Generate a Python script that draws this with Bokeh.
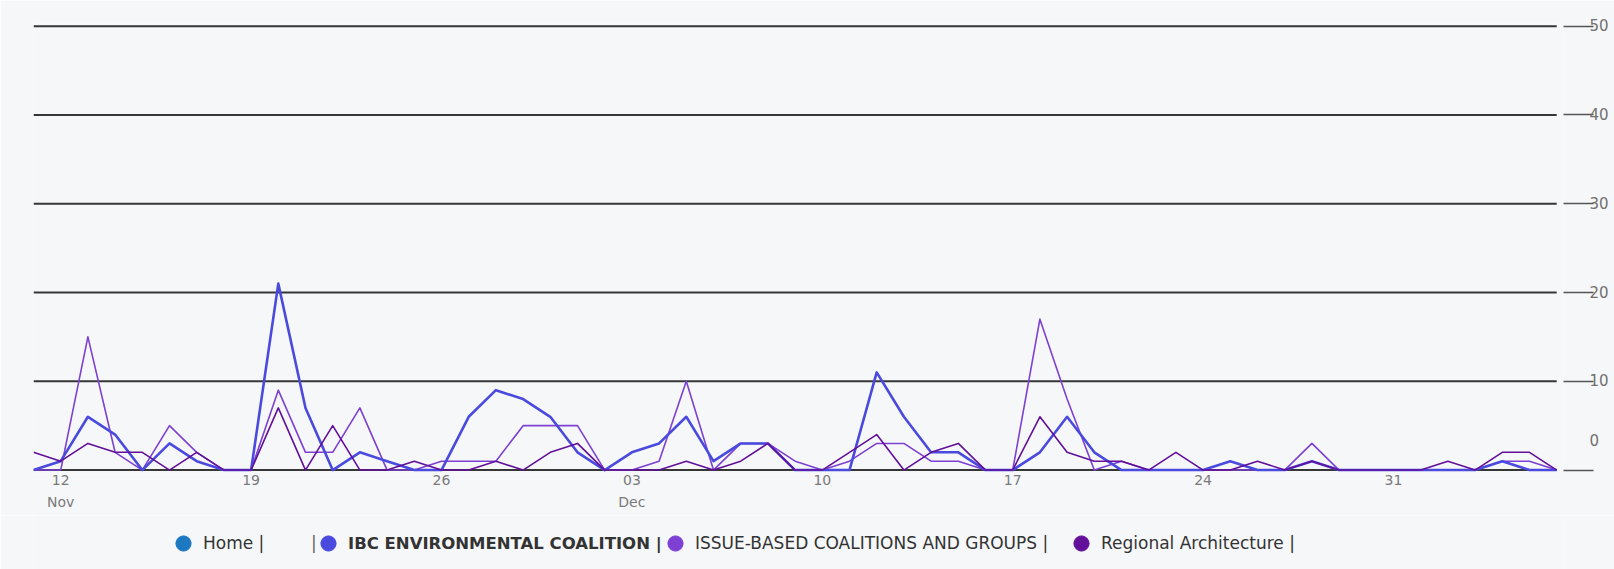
import numpy as np
import pandas as pd
from bokeh.plotting import figure
from bokeh.layouts import column
from bokeh.models import (Range1d, FixedTicker, Legend, LegendItem,
                          ColumnDataSource)
from bokeh.core.properties import value
from bokeh.embed import file_html
from bokeh.resources import INLINE

# ---------------- data ----------------
start_date = "2023-11-11"
end_date = "2024-01-06"

series_names = ["Home", "IBC ENVIRONMENTAL COALITION",
                "ISSUE-BASED COALITIONS AND GROUPS", "Regional Architecture"]

ibc = [0, 1, 6, 4, 0, 3, 1, 0, 0, 21,
       7, 0, 2, 1, 0, 0, 6, 9, 8, 6,
       2, 0, 2, 3, 6, 1, 3, 3, 0, 0,
       0, 11, 6, 2, 2, 0, 0, 2, 6, 2,
       0, 0, 0, 0, 1, 0, 0, 1, 0, 0,
       0, 0, 0, 0, 1, 0, 0]

issue = [0, 0, 15, 2, 0, 5, 2, 0, 0, 9,
         2, 2, 7, 0, 0, 1, 1, 1, 5, 5,
         5, 0, 0, 1, 10, 0, 3, 3, 1, 0,
         1, 3, 3, 1, 1, 0, 0, 17, 8, 0,
         1, 0, 0, 0, 0, 0, 0, 3, 0, 0,
         0, 0, 0, 0, 1, 1, 0]

regional = [2, 1, 3, 2, 2, 0, 2, 0, 0, 7,
            0, 5, 0, 0, 1, 0, 0, 1, 0, 2,
            3, 0, 0, 0, 1, 0, 1, 3, 0, 0,
            2, 4, 0, 2, 3, 0, 0, 6, 2, 1,
            1, 0, 2, 0, 0, 1, 0, 1, 0, 0,
            0, 0, 1, 0, 2, 2, 0]

x_tick_dates = ["2023-11-12", "2023-11-19", "2023-11-26", "2023-12-03",
                "2023-12-10", "2023-12-17", "2023-12-24", "2023-12-31"]
x_tick_labels = ["12\nNov", "19", "26", "03\nDec", "10", "17", "24", "31"]
y_ticks = [0, 10, 20, 30, 40, 50]
y_tick_labels = ["0", "10", "20", "30", "40", "50"]

# ---------------- style ----------------
BG = "#f6f7f9"
FONT = "DejaVu Sans"
colors = {"Home": "#1c78c0",
          "IBC ENVIRONMENTAL COALITION": "#4a4ade",
          "ISSUE-BASED COALITIONS AND GROUPS": "#7d40d2",
          "Regional Architecture": "#62109a"}

dates = pd.date_range(start_date, end_date, freq="D")
to_ms = lambda t: pd.Timestamp(t).value / 1e6

p = figure(x_axis_type="datetime", y_axis_location="right",
           x_range=Range1d(dates[0], dates[-1] + pd.Timedelta(hours=6)),
           y_range=Range1d(-0.5, 50.3),
           width=1614, height=515,
           min_border_left=33, min_border_top=23,
           min_border_right=51, min_border_bottom=41,
           output_backend="svg", toolbar_location=None,
           background_fill_color=BG, border_fill_color=BG,
           outline_line_color=None)

p.xgrid.visible = False
p.ygrid.visible = False

# horizontal grid lines spanning the data period
grid_src = ColumnDataSource(dict(x0=[dates[0]] * len(y_ticks),
                                 x1=[dates[-1]] * len(y_ticks),
                                 y=y_ticks))
p.segment(x0="x0", y0="y", x1="x1", y1="y", source=grid_src,
          line_color="#363636", line_width=2)

src = ColumnDataSource(dict(date=dates, ibc=ibc, issue=issue, regional=regional))
p.line("date", "issue", source=src, line_color=colors[series_names[2]],
       line_width=1.6, line_join="round")
p.line("date", "ibc", source=src, line_color=colors[series_names[1]],
       line_width=2.6, line_join="round")
p.line("date", "regional", source=src, line_color=colors[series_names[3]],
       line_width=1.6, line_join="round")

# ---------------- y axis (right) ----------------
ya = p.yaxis[0]
ya.ticker = FixedTicker(ticks=y_ticks)
# the "0" label sits above its tick in the reference: pad it with empty lines
ya.major_label_overrides = {t: (lab + "\n\n" if t == 0 else lab)
                            for t, lab in zip(y_ticks, y_tick_labels)}
ya.axis_line_color = None
ya.major_tick_in = 0
ya.major_tick_out = 30
ya.major_tick_line_color = "#555555"
ya.major_tick_line_width = 1.5
ya.minor_tick_line_color = None
ya.major_label_standoff = -4
ya.major_label_text_font = FONT
ya.major_label_text_font_size = "15px"
ya.major_label_text_color = "#707070"
ya.major_label_text_line_height = 1.6

# ---------------- x axis ----------------
xa = p.xaxis[0]
tick_ms = [to_ms(t) for t in x_tick_dates]
xa.ticker = FixedTicker(ticks=tick_ms)
xa.major_label_overrides = dict(zip(tick_ms, x_tick_labels))
xa.axis_line_color = None
xa.major_tick_line_color = None
xa.minor_tick_line_color = None
xa.major_label_standoff = -9
xa.major_label_text_font = FONT
xa.major_label_text_font_size = "14px"
xa.major_label_text_color = "#7a7a7a"
xa.major_label_text_line_height = 1.4

# ---------------- legend strip ----------------
lf = figure(width=1614, height=54, x_range=Range1d(0, 1), y_range=Range1d(0, 1),
            x_axis_location=None, y_axis_location=None,
            min_border_left=0, min_border_right=0, min_border_top=0, min_border_bottom=0,
            output_backend="svg", toolbar_location=None,
            background_fill_color=BG, border_fill_color=BG, outline_line_color=None)
lf.xgrid.visible = False
lf.ygrid.visible = False

# (label, colour or None for the bare separator, label left edge, font size, weight)
legend_entries = [
    (series_names[0] + " |", colors[series_names[0]], 203, "17px", "normal"),
    ("|", None, 311, "17px", "normal"),
    (series_names[1] + " |", colors[series_names[1]], 348, "16.5px", "bold"),
    (series_names[2] + " |", colors[series_names[2]], 695, "17px", "normal"),
    (series_names[3] + " |", colors[series_names[3]], 1101, "17px", "normal"),
]
LABEL_SHIFT = 73  # distance from legend anchor to its label's left edge
for label, col, label_x, fsize, fweight in legend_entries:
    if col is None:
        r = lf.scatter(x=[np.nan], y=[np.nan], marker="circle",
                       fill_alpha=0, line_alpha=0)
    else:
        r = lf.scatter(x=[np.nan], y=[np.nan], marker="circle",
                       fill_color=col, line_color=col)
    leg = Legend(items=[LegendItem(label=value(label), renderers=[r])],
                 location=(label_x - LABEL_SHIFT, 7), orientation="horizontal",
                 glyph_width=40, glyph_height=38, label_standoff=-3,
                 label_width=0, padding=0, margin=0, spacing=0,
                 border_line_color=None, background_fill_alpha=0,
                 label_text_font=FONT, label_text_font_size=fsize,
                 label_text_font_style=fweight,
                 label_text_color="#333333" if col is not None else "#666666")
    lf.add_layout(leg, "center")

layout = column(p, lf, spacing=0)
open("out.html", "w").write(file_html(layout, INLINE))
